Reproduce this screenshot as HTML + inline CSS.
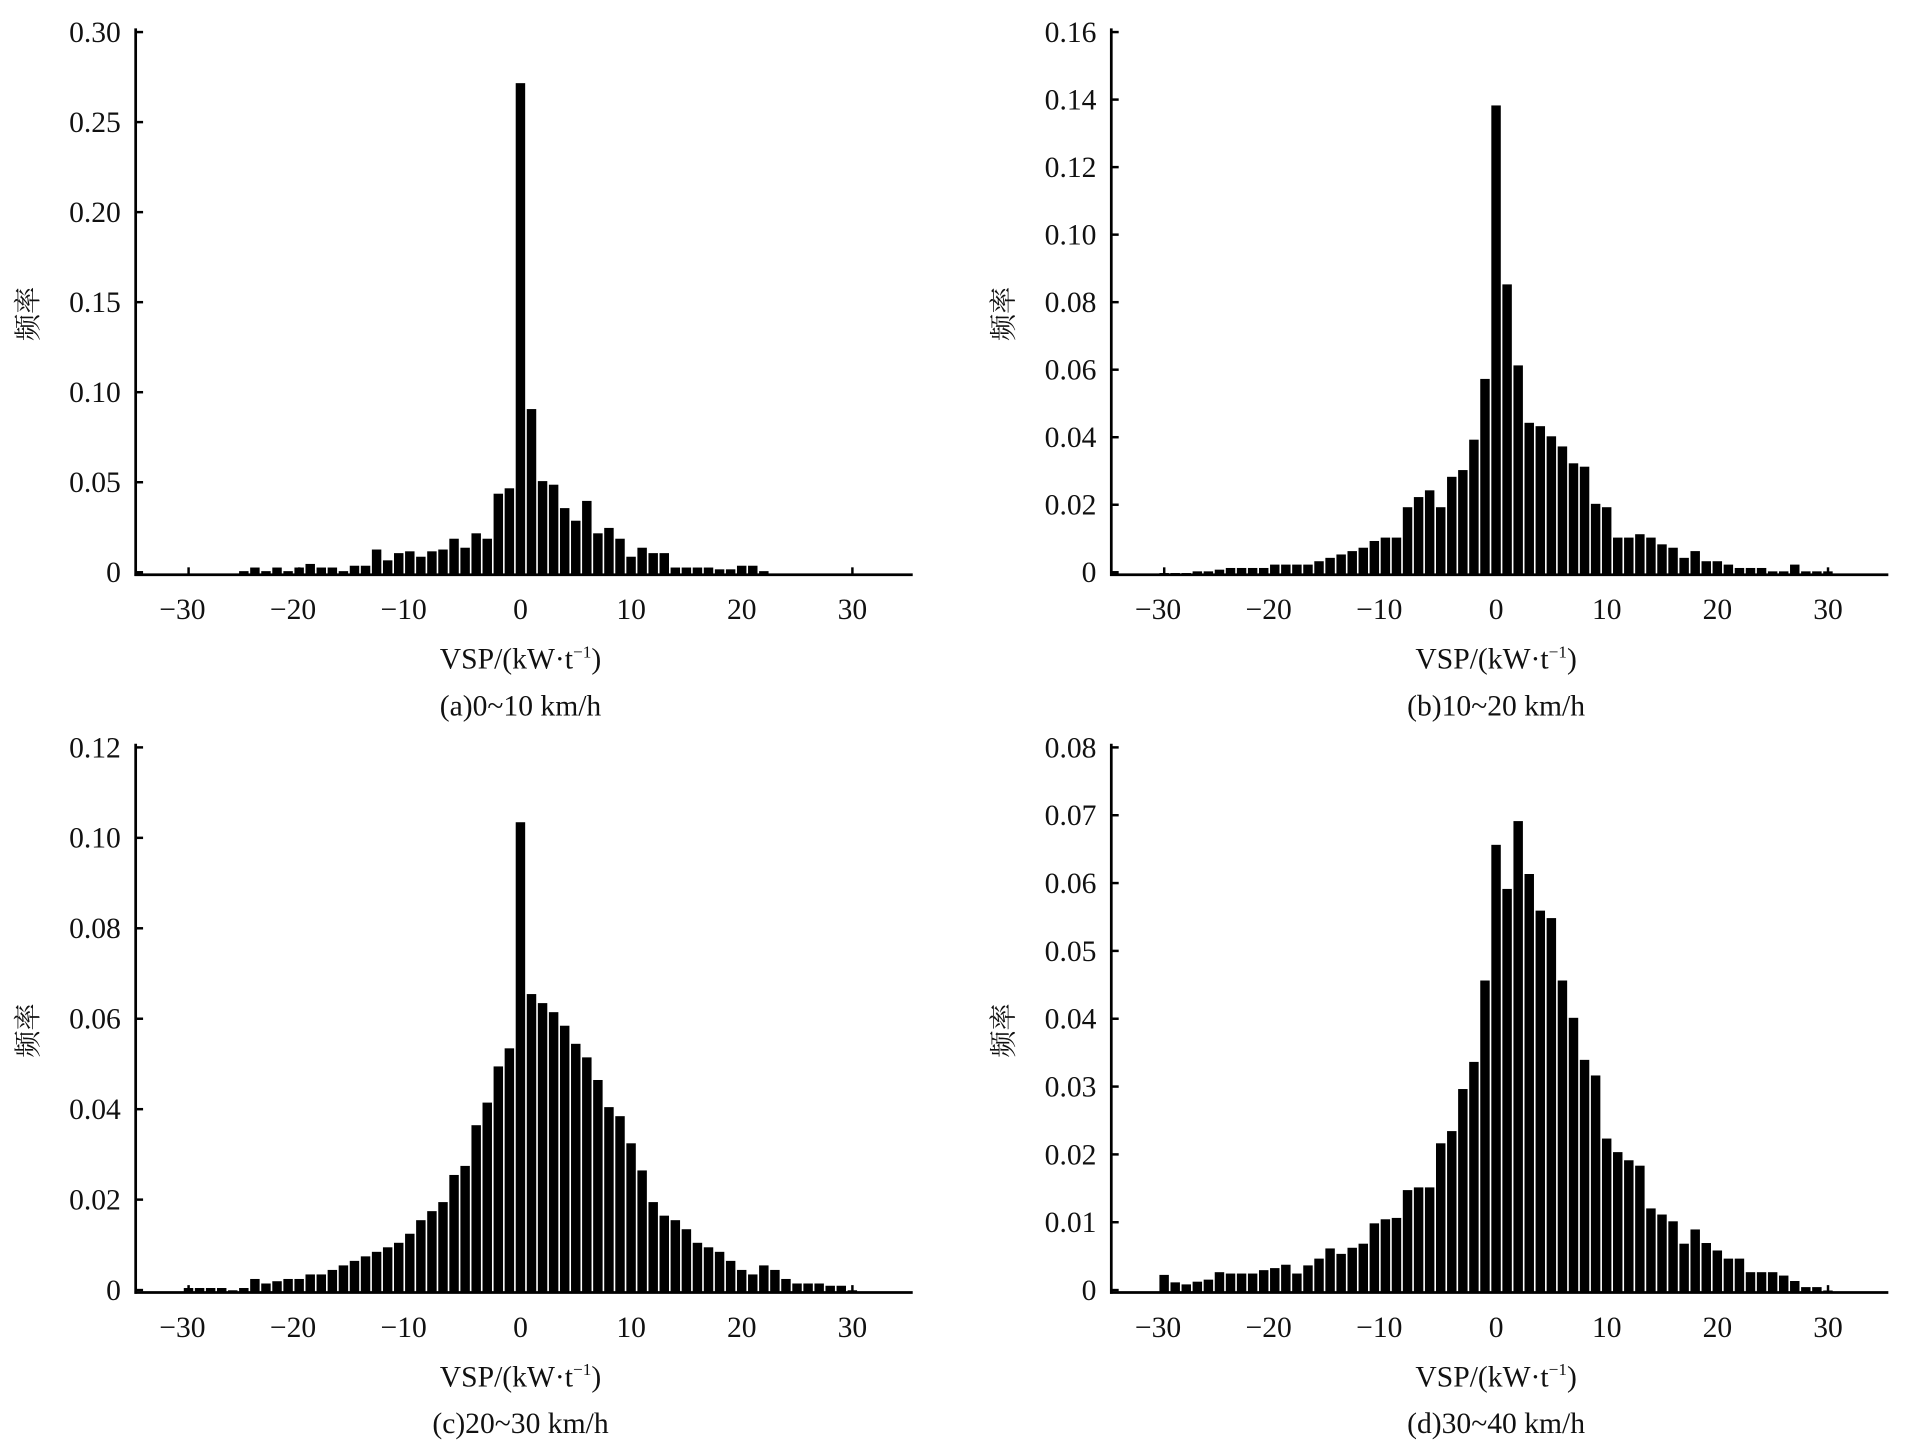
<!DOCTYPE html>
<html><head><meta charset="utf-8">
<style>
html,body{margin:0;padding:0;background:#fff;}
svg{display:block;}
text{font-family:"Liberation Serif","Noto Serif CJK SC",serif;fill:#111;}
</style></head>
<body>
<svg id="s" width="1913" height="1443" viewBox="0 0 1551 1170" preserveAspectRatio="none" xmlns="http://www.w3.org/2000/svg"></svg>
<script>
const S=document.getElementById('s');
let h='';
function panel(o){
  const {ax,yTop,y0,ymax,step,dec,data,cap}=o;
  const x1=ax+630;
  const yTick0=y0-2;
  const pxPerUnit=(yTick0-(yTop+3))/ymax;
  const xc=ax+312;
  const ux=8.97;
  for(const k in data){
    const v=data[k];const i=+k;
    const hh=v*pxPerUnit;
    const xl=xc+(i-0.5)*ux+0.6;
    h+=`<rect x="${xl.toFixed(2)}" y="${(y0-hh).toFixed(2)}" width="${(ux-1.3).toFixed(2)}" height="${hh.toFixed(2)}" fill="#000"/>`;
  }
  h+=`<line x1="${ax}" y1="${yTop}" x2="${ax}" y2="${y0+1}" stroke="#000" stroke-width="2.2"/>`;
  h+=`<line x1="${ax-1}" y1="${y0}" x2="${x1}" y2="${y0}" stroke="#000" stroke-width="2.2"/>`;
  const n=Math.round(ymax/step);
  for(let j=0;j<=n;j++){
    const v=j*step;const y=yTick0-v*pxPerUnit;
    h+=`<line x1="${ax}" y1="${y}" x2="${ax+6}" y2="${y}" stroke="#000" stroke-width="2"/>`;
    const lab=j==0?'0':v.toFixed(dec);
    h+=`<text x="${ax-12}" y="${y+8}" font-size="24" text-anchor="end">${lab}</text>`;
  }
  for(let t=-30;t<=30;t+=10){
    const x=xc+t*ux;
    h+=`<line x1="${x}" y1="${y0}" x2="${x}" y2="${y0-6}" stroke="#000" stroke-width="2"/>`;
    const lab=t<0?'\u2212'+(-t):''+t;
    h+=`<text x="${t<0?x-5:x}" y="${y0+36}" font-size="24" text-anchor="middle">${lab}</text>`;
  }
  h+=`<text x="${xc}" y="${y0+76}" font-size="24" text-anchor="middle">VSP/(kW·t<tspan font-size="14" dy="-9">−1</tspan><tspan dy="9">)</tspan></text>`;
  h+=`<text x="${xc}" y="${y0+114}" font-size="24" text-anchor="middle">${cap}</text>`;
  const ly=(yTop+y0)/2+10;
  h+=`<text x="${ax-80}" y="${ly}" font-size="22" text-anchor="middle" transform="rotate(-90 ${ax-80} ${ly})" fill="#333">频率</text>`;
}
function arr(neg,pos){const d={};neg.forEach((v,i)=>{d[-(i+1)]=v});pos.forEach((v,i)=>{d[i]=v});return d;}
const A={};
[[-25,.002],[-24,.004],[-23,.002],[-22,.004],[-21,.002],[-20,.004],[-19,.006],[-18,.004],[-17,.004],[-16,.002],[-15,.005],[-14,.005],[-13,.014],[-12,.008],[-11,.012],[-10,.013],[-9,.01],[-8,.013],[-7,.014],[-6,.02],[-5,.015],[-4,.023],[-3,.02],[-2,.045],[-1,.048],[0,.273],[1,.092],[2,.052],[3,.05],[4,.037],[5,.03],[6,.041],[7,.023],[8,.026],[9,.02],[10,.01],[11,.015],[12,.012],[13,.012],[14,.004],[15,.004],[16,.004],[17,.004],[18,.003],[19,.003],[20,.005],[21,.005],[22,.002]].forEach(p=>A[p[0]]=p[1]);
const B=arr([.058,.04,.031,.029,.02,.025,.023,.02,.011,.011,.01,.008,.007,.006,.005,.004,.003,.003,.003,.003,.002,.002,.002,.002,.0015,.001,.001,.0005,.0005,.0005],
[.139,.086,.062,.045,.044,.041,.038,.033,.032,.021,.02,.011,.011,.012,.011,.009,.008,.005,.007,.004,.004,.003,.002,.002,.002,.001,.001,.003,.001,.001,.001]);
const C=arr([.054,.05,.042,.037,.028,.026,.02,.018,.016,.013,.011,.01,.009,.008,.007,.006,.005,.004,.004,.003,.003,.0025,.002,.003,.001,.0005,.001,.001,.001,.001],
[.104,.066,.064,.062,.059,.055,.052,.047,.041,.039,.033,.027,.02,.017,.016,.014,.011,.01,.009,.007,.005,.004,.006,.005,.003,.002,.002,.002,.0015,.0015,.0005]);
const D=arr([.046,.034,.030,.0238,.022,.0155,.0155,.0151,.011,.0108,.0102,.0072,.0066,.0057,.0065,.005,.004,.0028,.0041,.0036,.0033,.0028,.0028,.0028,.003,.0019,.0016,.0012,.0015,.0026],
[.066,.0595,.0695,.0617,.0563,.0552,.046,.0405,.0343,.032,.0227,.0207,.0195,.0187,.0124,.0115,.0105,.0072,.0093,.0073,.0062,.005,.005,.003,.003,.003,.0025,.0017,.0008,.0008,.0003]);
panel({ax:110,yTop:23,y0:466,ymax:0.30,step:0.05,dec:2,data:A,cap:'(a)0~10 km/h'});
panel({ax:901,yTop:23,y0:466,ymax:0.16,step:0.02,dec:2,data:B,cap:'(b)10~20 km/h'});
panel({ax:110,yTop:603,y0:1048,ymax:0.12,step:0.02,dec:2,data:C,cap:'(c)20~30 km/h'});
panel({ax:901,yTop:603,y0:1048,ymax:0.08,step:0.01,dec:2,data:D,cap:'(d)30~40 km/h'});
S.innerHTML=h;
</script>
</body></html>
